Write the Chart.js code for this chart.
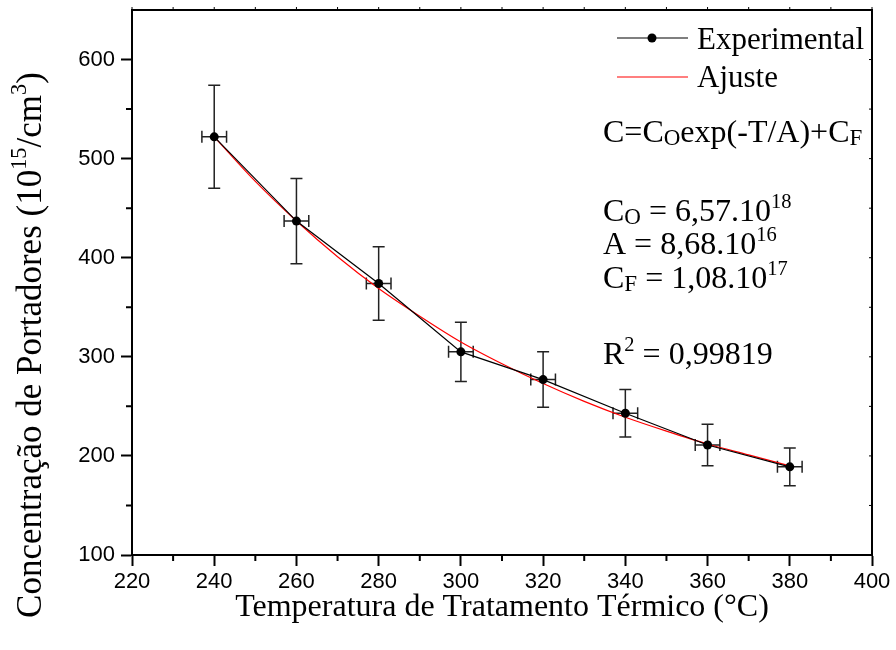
<!DOCTYPE html>
<html><head><meta charset="utf-8">
<script src="https://cdn.jsdelivr.net/npm/chart.js@4.4.0/dist/chart.umd.min.js"></script>
<style>html,body{margin:0;padding:0;background:#fff}#wrap{width:896px;height:650px;position:relative}canvas{display:block}</style>
</head><body><div id="wrap"><canvas id="c" width="896" height="650"></canvas></div>
<script>
// ---- data ----
const temps = [240, 260, 280, 300, 320, 340, 360, 380];
const conc = [522, 437, 374, 305, 277, 243, 211, 189];
const concErr = [52, 43, 37, 30, 28, 24, 21, 19];
const tempErr = [3, 3, 3, 3, 3, 3, 3, 3];
const fitTemps = [240, 250, 260, 270, 280, 290, 300, 310, 320, 330, 340, 350, 360, 370, 380];
const fitConc = [522, 477, 437, 401, 369, 341, 315, 293, 273, 255, 239, 225, 212, 201, 190];
const xTicks = [220, 240, 260, 280, 300, 320, 340, 360, 380, 400];
const yTicks = [100, 200, 300, 400, 500, 600];
const xMinor = [230, 250, 270, 290, 310, 330, 350, 370, 390];
const yMinor = [150, 250, 350, 450, 550];
const legendLabels = ['Experimental', 'Ajuste'];
const xTitle = 'Temperatura de Tratamento Térmico (°C)';

const SERIF = '"Liberation Serif", "Times New Roman", serif';
const SANS = '"Liberation Sans", Arial, sans-serif';

function drawRich(ctx, x, y, parts, size) {
  let cx = x;
  for (const p of parts) {
    let s = size, dy = 0;
    if (p.sub) { s = size * 0.72; dy = size * 0.1; }
    if (p.sup) { s = size * 0.64; dy = -size * 0.42; }
    ctx.font = s + 'px ' + SERIF;
    ctx.fillText(p.t, cx, y + dy);
    cx += ctx.measureText(p.t).width;
  }
  return cx - x;
}
function richWidth(ctx, parts, size) {
  let w = 0;
  for (const p of parts) {
    let s = size;
    if (p.sub) s = size * 0.72;
    if (p.sup) s = size * 0.64;
    ctx.font = s + 'px ' + SERIF;
    w += ctx.measureText(p.t).width;
  }
  return w;
}

const errorBars = {
  id: 'errorBars',
  beforeDatasetsDraw(chart) {
    const ctx = chart.ctx, xs = chart.scales.x, ys = chart.scales.y;
    ctx.save();
    ctx.strokeStyle = '#222';
    ctx.lineWidth = 1.5;
    for (let i = 0; i < temps.length; i++) {
      const px = xs.getPixelForValue(temps[i]);
      const py = ys.getPixelForValue(conc[i]);
      const top = ys.getPixelForValue(conc[i] + concErr[i]);
      const bot = ys.getPixelForValue(conc[i] - concErr[i]);
      const l = xs.getPixelForValue(temps[i] - tempErr[i]);
      const r = xs.getPixelForValue(temps[i] + tempErr[i]);
      ctx.beginPath();
      ctx.moveTo(px, top); ctx.lineTo(px, bot);
      ctx.moveTo(px - 6, top); ctx.lineTo(px + 6, top);
      ctx.moveTo(px - 6, bot); ctx.lineTo(px + 6, bot);
      ctx.moveTo(l, py); ctx.lineTo(r, py);
      ctx.moveTo(l, py - 6); ctx.lineTo(l, py + 6);
      ctx.moveTo(r, py - 6); ctx.lineTo(r, py + 6);
      ctx.stroke();
    }
    ctx.restore();
  }
};

const decorations = {
  id: 'decorations',
  afterDraw(chart) {
    const ctx = chart.ctx, xs = chart.scales.x, ys = chart.scales.y, a = chart.chartArea;
    ctx.save();
    ctx.strokeStyle = '#000';
    // frame top & right
    ctx.lineWidth = 2;
    ctx.beginPath();
    ctx.moveTo(a.left - 1, a.top); ctx.lineTo(a.right, a.top); ctx.lineTo(a.right, a.bottom + 1);
    ctx.stroke();
    // minor ticks
    ctx.lineWidth = 2;
    ctx.beginPath();
    for (const v of xMinor) { const p = xs.getPixelForValue(v); ctx.moveTo(p, a.bottom); ctx.lineTo(p, a.bottom + 6); }
    for (const v of yMinor) { const p = ys.getPixelForValue(v); ctx.moveTo(a.left, p); ctx.lineTo(a.left - 6, p); }
    ctx.stroke();
    // tiny ticks on top & right
    ctx.lineWidth = 1;
    ctx.beginPath();
    for (const v of xTicks.concat(xMinor)) { const p = xs.getPixelForValue(v); ctx.moveTo(p, a.top); ctx.lineTo(p, a.top - 3); }
    for (const v of yTicks.concat(yMinor)) { const p = ys.getPixelForValue(v); ctx.moveTo(a.right, p); ctx.lineTo(a.right - 3, p); }
    ctx.stroke();

    ctx.fillStyle = '#000';
    ctx.textBaseline = 'alphabetic';
    ctx.textAlign = 'left';
    // legend
    ctx.lineWidth = 1.2;
    ctx.strokeStyle = '#000';
    ctx.beginPath(); ctx.moveTo(617, 38); ctx.lineTo(688, 38); ctx.stroke();
    ctx.beginPath(); ctx.arc(652, 38, 4.5, 0, Math.PI * 2); ctx.fill();
    ctx.strokeStyle = '#ff0000';
    ctx.beginPath(); ctx.moveTo(617, 77); ctx.lineTo(688, 77); ctx.stroke();
    ctx.font = '31px ' + SERIF;
    ctx.fillText(legendLabels[0], 697, 49);
    ctx.fillText(legendLabels[1], 697, 87);

    // annotations
    const S = 32;
    drawRich(ctx, 603, 142, [{t:'C=C'},{t:'O',sub:true},{t:'exp(-T/A)+C'},{t:'F',sub:true}], S);
    drawRich(ctx, 603, 221, [{t:'C'},{t:'O',sub:true},{t:' = 6,57.10'},{t:'18',sup:true}], S);
    drawRich(ctx, 603, 254, [{t:'A = 8,68.10'},{t:'16',sup:true}], S);
    drawRich(ctx, 603, 288, [{t:'C'},{t:'F',sub:true},{t:' = 1,08.10'},{t:'17',sup:true}], S);
    drawRich(ctx, 603, 364, [{t:'R'},{t:'2',sup:true},{t:' = 0,99819'}], S);

    // x title
    const T = 32;
    ctx.font = T + 'px ' + SERIF;
    ctx.textAlign = 'center';
    ctx.fillText(xTitle, (a.left + a.right) / 2, 616);
    ctx.textAlign = 'left';
    // y title
    const TY = 35;
    const yParts = [{t:'Concentração de Portadores (10'},{t:'15',sup:true},{t:'/cm'},{t:'3',sup:true},{t:')'}];
    const w = richWidth(ctx, yParts, TY);
    ctx.save();
    ctx.translate(41, 345);
    ctx.rotate(-Math.PI / 2);
    drawRich(ctx, -w / 2, 0, yParts, TY);
    ctx.restore();
    ctx.restore();
  }
};

new Chart(document.getElementById('c'), {
  type: 'line',
  data: {
    datasets: [
      {
        label: legendLabels[0],
        data: temps.map((t, i) => ({x: t, y: conc[i]})),
        borderColor: '#000', backgroundColor: '#000', borderWidth: 1.2,
        pointRadius: 4.5, pointBackgroundColor: '#000', pointBorderWidth: 0,
        tension: 0, order: 1
      },
      {
        label: legendLabels[1],
        data: fitTemps.map((t, i) => ({x: t, y: fitConc[i]})),
        borderColor: '#ff0000', borderWidth: 1.2, pointRadius: 0,
        cubicInterpolationMode: 'monotone', order: 2
      }
    ]
  },
  options: {
    responsive: false, animation: false, devicePixelRatio: 1,
    layout: {padding: {top: 10, right: 24, left: 0, bottom: 0}},
    plugins: {legend: {display: false}, tooltip: {enabled: false}},
    scales: {
      x: {
        type: 'linear', min: 220, max: 400,
        afterBuildTicks(s) { s.ticks = xTicks.map(v => ({value: v})); },
        afterFit(s) { s.height = 95; s.paddingLeft = 0; s.paddingRight = 0; },
        ticks: {font: {family: SANS, size: 22}, color: '#000', padding: 3, maxRotation: 0, autoSkip: false},
        grid: {drawOnChartArea: false, drawTicks: true, tickLength: 11, tickWidth: 2, tickColor: '#000'},
        border: {display: true, color: '#000', width: 2}
      },
      y: {
        type: 'linear', min: 100, max: 650,
        afterBuildTicks(s) { s.ticks = yTicks.map(v => ({value: v})); },
        afterFit(s) { s.width = 132; s.paddingTop = 0; s.paddingBottom = 0; },
        ticks: {font: {family: SANS, size: 22}, color: '#000', padding: 6, autoSkip: false},
        grid: {drawOnChartArea: false, drawTicks: true, tickLength: 11, tickWidth: 2, tickColor: '#000'},
        border: {display: true, color: '#000', width: 2}
      }
    }
  },
  plugins: [errorBars, decorations]
});
</script></body></html>
